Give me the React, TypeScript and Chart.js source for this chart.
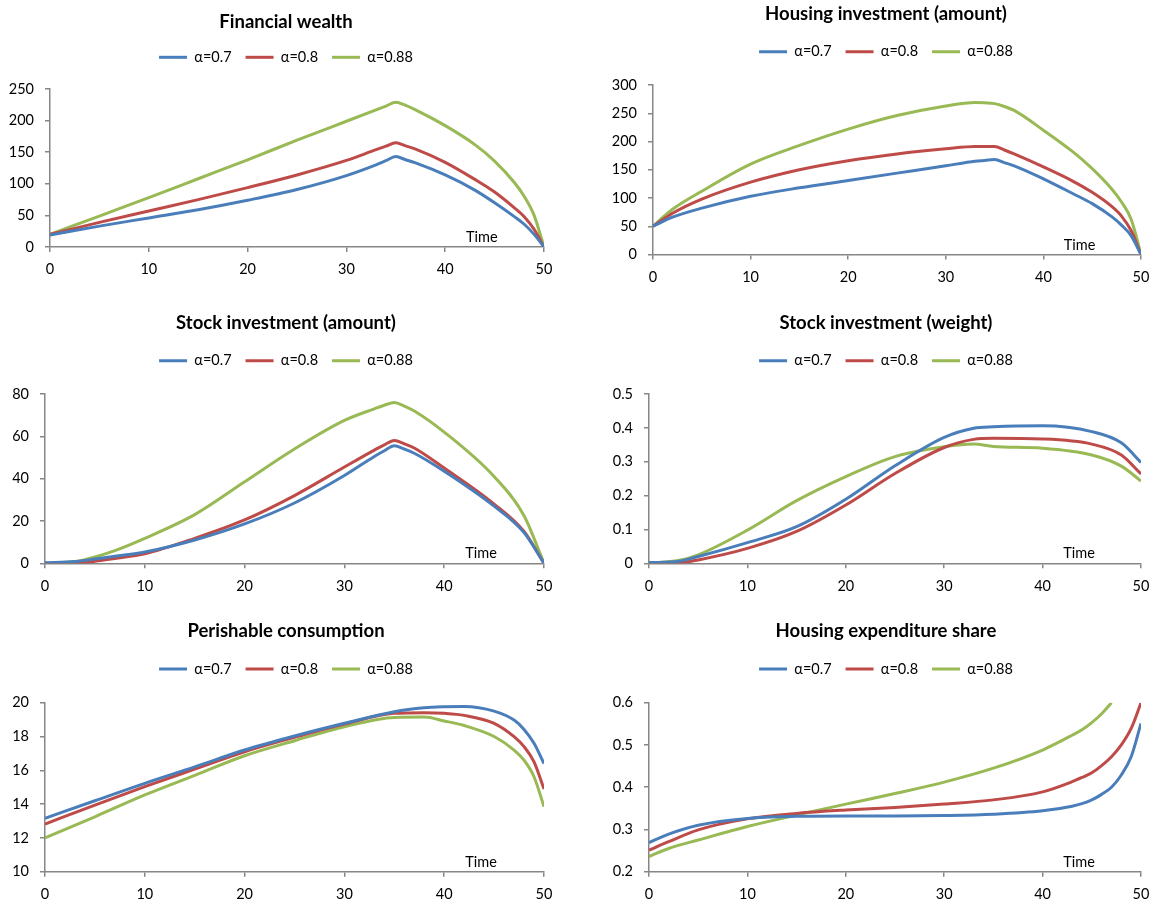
import React, { useEffect, useRef } from 'react';
import { Chart, registerables } from 'chart.js';

Chart.register(...registerables);

// ---------- data ----------
const SERIES_LABELS = ['α=0.7', 'α=0.8', 'α=0.88'];
const COLORS = ['#4A7EBB', '#BE4B48', '#98B954'];

// Financial wealth
const T_WEALTH = [0, 5, 10, 15, 20, 25, 30, 33, 34, 35, 36, 37, 40, 43, 45, 47, 48, 49, 50];
const WEALTH_07 = [19, 33, 46, 59, 74, 91, 113, 130, 136.5, 143, 138, 133, 114, 90, 70, 48, 36, 20, 0];
const WEALTH_08 = [20, 39, 57, 75, 94, 114, 137, 154, 159.5, 165, 160, 155, 134, 107, 87, 62, 48, 28, 0];
const WEALTH_088 = [20, 49, 78, 108, 138, 169, 199, 217, 223, 229, 224, 217, 192, 162, 136, 102, 80, 50, 0];

// Housing investment (amount)
const T_HOUSING = [0, 2, 5, 10, 15, 20, 25, 30, 33, 34, 35, 36, 37, 40, 43, 45, 47, 48, 49, 50];
const HOUSING_07 = [50, 66, 82, 103, 118, 131, 144, 157, 165, 166.5, 168, 162.5, 157, 134, 108, 90, 67, 52, 33, 0];
const HOUSING_08 = [50, 73, 98, 128, 150, 166, 178, 187, 191, 191, 191, 185, 178, 155, 130, 110, 85, 68, 42, 0];
const HOUSING_088 = [50, 80, 112, 160, 193, 222, 246, 263, 269, 268.5, 267, 262, 255, 220, 182, 152, 116, 93, 62, 0];

// Stock investment (amount)
const T_STOCK_AMT = [0, 3, 5, 7, 10, 15, 20, 25, 30, 33, 34, 35, 36, 37, 40, 45, 48, 50];
const STOCK_AMT_07 = [0.3, 0.8, 2, 3.3, 5.3, 11, 18.6, 28.5, 41.5, 50.5, 53.2, 55.6, 54, 52, 43.5, 27, 14.5, 0];
const STOCK_AMT_08 = [0, 0.1, 1, 2.3, 4.5, 11.8, 20.5, 32, 45.5, 53.5, 56, 58, 56.5, 54.5, 45, 28, 15, 0];
const STOCK_AMT_088 = [0, 0.8, 3, 6, 11.8, 23, 38.5, 54, 67.5, 73, 74.7, 76, 74.3, 72, 62, 41, 22.5, 0];

// Stock investment (weight)
const T_STOCK_W = [0, 3, 5, 10, 15, 20, 25, 30, 33, 35, 40, 45, 48, 50];
const STOCK_W_07 = [0.002, 0.006, 0.02, 0.061, 0.108, 0.189, 0.288, 0.372, 0.399, 0.403, 0.406, 0.389, 0.356, 0.298];
const STOCK_W_08 = [0, 0.001, 0.01, 0.044, 0.094, 0.172, 0.265, 0.342, 0.366, 0.369, 0.367, 0.352, 0.32, 0.264];
const STOCK_W_088 = [0, 0.008, 0.025, 0.098, 0.185, 0.256, 0.315, 0.344, 0.352, 0.345, 0.34, 0.32, 0.287, 0.243];

// Perishable consumption
const T_CONS = [0, 5, 10, 15, 20, 25, 30, 35, 38, 40, 42, 45, 47, 48, 49, 50];
const CONS_07 = [13.16, 14.2, 15.23, 16.2, 17.2, 18.03, 18.78, 19.47, 19.7, 19.76, 19.78, 19.5, 18.97, 18.42, 17.6, 16.4];
const CONS_08 = [12.82, 13.94, 15.03, 16.07, 17.1, 17.95, 18.74, 19.37, 19.41, 19.37, 19.25, 18.78, 17.99, 17.4, 16.5, 14.9];
const CONS_088 = [12.0, 13.25, 14.54, 15.7, 16.86, 17.75, 18.58, 19.13, 19.15, 18.92, 18.65, 18.0, 17.2, 16.6, 15.62, 13.85];

// Housing expenditure share
const T_SHARE = [0, 2, 5, 10, 15, 20, 25, 30, 35, 40, 43, 44, 45, 46, 47, 48, 49, 50];
const SHARE_07 = [0.269, 0.289, 0.31, 0.326, 0.331, 0.332, 0.332, 0.333, 0.336, 0.344, 0.355, 0.361, 0.37, 0.383, 0.4, 0.429, 0.472, 0.551];
const SHARE_08 = [0.251, 0.271, 0.299, 0.325, 0.338, 0.346, 0.352, 0.36, 0.37, 0.389, 0.413, 0.423, 0.434, 0.451, 0.472, 0.5, 0.539, 0.6];
const SHARE_088 = [0.236, 0.255, 0.275, 0.307, 0.334, 0.36, 0.385, 0.412, 0.445, 0.488, 0.523, 0.536, 0.553, 0.574, 0.6, null, null, null];

const X_MIN = 0;
const X_MAX = 50;
const X_STEP = 10;
const TIME_LABEL = 'Time';
const TIME_LABEL_AT = 43.7;

// ---------- styling / layout ----------
const FONT = 'Lato, "Open Sans", sans-serif';
const AXIS_COLOR = '#868686';
const TICK_SIZE = 14.5;
const TITLE_SIZE = 18.5;
const LEGEND_SIZE = 14.5;
const LEGEND_PAD = 14;

type Panel = {
  title: string;
  t: number[];
  series: (number | null)[][];
  yMin: number;
  yMax: number;
  yStep: number;
  left: number;
  top: number;
  w: number;
  h: number;
  titleC: number;
  legendC: number;
  plotTop: number;
  plotBottom: number;
  plotLeft: number;
  plotRight: number;
};

const PANELS: Panel[] = [
  {
    title: 'Financial wealth', t: T_WEALTH, series: [WEALTH_07, WEALTH_08, WEALTH_088],
    yMin: 0, yMax: 250, yStep: 50,
    left: 0, top: 0, w: 572, h: 300, titleC: 22, legendC: 57.3, plotTop: 89, plotBottom: 247, plotLeft: 50, plotRight: 544,
  },
  {
    title: 'Housing investment (amount)', t: T_HOUSING, series: [HOUSING_07, HOUSING_08, HOUSING_088],
    yMin: 0, yMax: 300, yStep: 50,
    left: 600, top: 0, w: 572, h: 300, titleC: 14, legendC: 51.7, plotTop: 85, plotBottom: 254.5, plotLeft: 53, plotRight: 541,
  },
  {
    title: 'Stock investment (amount)', t: T_STOCK_AMT, series: [STOCK_AMT_07, STOCK_AMT_08, STOCK_AMT_088],
    yMin: 0, yMax: 80, yStep: 20,
    left: 0, top: 300, w: 572, h: 310, titleC: 22.7, legendC: 60.7, plotTop: 94, plotBottom: 263.3, plotLeft: 45, plotRight: 544,
  },
  {
    title: 'Stock investment (weight)', t: T_STOCK_W, series: [STOCK_W_07, STOCK_W_08, STOCK_W_088],
    yMin: 0, yMax: 0.5, yStep: 0.1,
    left: 600, top: 300, w: 572, h: 310, titleC: 22.7, legendC: 60.7, plotTop: 94, plotBottom: 263.3, plotLeft: 49, plotRight: 541,
  },
  {
    title: 'Perishable consumption', t: T_CONS, series: [CONS_07, CONS_08, CONS_088],
    yMin: 10, yMax: 20, yStep: 2,
    left: 0, top: 610, w: 572, h: 296, titleC: 20.7, legendC: 59, plotTop: 92.7, plotBottom: 261.7, plotLeft: 45, plotRight: 544,
  },
  {
    title: 'Housing expenditure share', t: T_SHARE, series: [SHARE_07, SHARE_08, SHARE_088],
    yMin: 0.2, yMax: 0.6, yStep: 0.1,
    left: 600, top: 610, w: 572, h: 296, titleC: 20.7, legendC: 59, plotTop: 92.7, plotBottom: 261.7, plotLeft: 49, plotRight: 541,
  },
];

function legendGapPlugin(extra: number) {
  return {
    id: 'legendGap',
    beforeLayout(chart: any) {
      const leg = chart.legend;
      if (!leg || leg.__patched) return;
      const orig = leg.fit;
      leg.fit = function () {
        orig.call(this);
        this.height += extra;
      };
      leg.__patched = true;
    },
  };
}

const timeLabelPlugin = {
  id: 'timeLabel',
  afterDraw(chart: any) {
    const { ctx, chartArea, scales } = chart;
    ctx.save();
    ctx.font = `${TICK_SIZE}px ${FONT}`;
    ctx.fillStyle = '#000';
    ctx.textAlign = 'center';
    ctx.textBaseline = 'middle';
    ctx.fillText(TIME_LABEL, scales.x.getPixelForValue(TIME_LABEL_AT), chartArea.bottom - 9.5);
    ctx.restore();
  },
};

function PanelChart({ p }: { p: Panel }) {
  const ref = useRef<HTMLCanvasElement>(null);
  useEffect(() => {
    const canvas = ref.current;
    if (!canvas) return;
    const titleLH = TITLE_SIZE * 1.2;
    const titlePadTop = p.titleC - titleLH / 2;
    const L = p.legendC - LEGEND_PAD - LEGEND_SIZE / 2;
    const titlePadBottom = L - titlePadTop - titleLH;
    const extra = p.plotTop - L - (LEGEND_SIZE + LEGEND_PAD + 10);
    const xH = p.h - p.plotBottom;
    const padR = p.w - p.plotRight;

    const chart = new Chart(canvas, {
      type: 'line',
      data: {
        datasets: p.series.map((vals, i) => ({
          label: SERIES_LABELS[i],
          data: p.t.map((t, j) => ({ x: t, y: vals[j] })),
          borderColor: COLORS[i],
          backgroundColor: COLORS[i],
          borderWidth: 3,
          pointRadius: 0,
          pointHoverRadius: 0,
          cubicInterpolationMode: 'monotone',
          fill: false,
          spanGaps: false,
        })),
      },
      options: {
        animation: false,
        responsive: false,
        devicePixelRatio: 1,
        events: [],
        layout: { padding: 0 },
        plugins: {
          title: {
            display: true,
            text: p.title,
            color: '#000',
            font: { family: FONT, size: TITLE_SIZE, weight: 'bold', lineHeight: 1.2 },
            padding: { top: titlePadTop, bottom: titlePadBottom },
          },
          legend: {
            display: true,
            position: 'top',
            align: 'center',
            labels: {
              boxWidth: 28,
              boxHeight: 3,
              padding: LEGEND_PAD,
              color: '#000',
              font: { family: FONT, size: LEGEND_SIZE },
              generateLabels: (c: any) =>
                (Chart.defaults.plugins.legend.labels as any).generateLabels(c).map((l: any) => ({ ...l, lineWidth: 0 })),
            },
          },
          tooltip: { enabled: false },
        },
        scales: {
          x: {
            type: 'linear',
            min: X_MIN,
            max: X_MAX,
            ticks: {
              stepSize: X_STEP,
              color: '#000',
              font: { family: FONT, size: TICK_SIZE },
              padding: 9,
              maxRotation: 0,
            },
            grid: { drawOnChartArea: false, drawTicks: true, tickLength: 5, color: AXIS_COLOR, lineWidth: 1.5 },
            border: { color: AXIS_COLOR, width: 1.5 },
            afterFit: (s: any) => {
              s.height = xH;
              s.paddingRight = padR;
            },
          },
          y: {
            type: 'linear',
            min: p.yMin,
            max: p.yMax,
            ticks: {
              stepSize: p.yStep,
              color: '#000',
              font: { family: FONT, size: TICK_SIZE },
              padding: 11,
            },
            grid: { drawOnChartArea: false, drawTicks: true, tickLength: 5, color: AXIS_COLOR, lineWidth: 1.5 },
            border: { color: AXIS_COLOR, width: 1.5 },
            afterFit: (s: any) => {
              s.width = p.plotLeft;
            },
          },
        },
      } as any,
      plugins: [legendGapPlugin(extra), timeLabelPlugin],
    });
    return () => chart.destroy();
  }, [p]);

  return (
    <canvas
      ref={ref}
      width={p.w}
      height={p.h}
      style={{ position: 'absolute', left: p.left, top: p.top, width: p.w, height: p.h }}
    />
  );
}

export default function App() {
  return (
    <div
      style={{
        position: 'fixed',
        left: 0,
        top: 0,
        width: 1156,
        height: 906,
        overflow: 'hidden',
        background: '#fff',
      }}
    >
      {PANELS.map((p, i) => (
        <PanelChart key={i} p={p} />
      ))}
    </div>
  );
}
